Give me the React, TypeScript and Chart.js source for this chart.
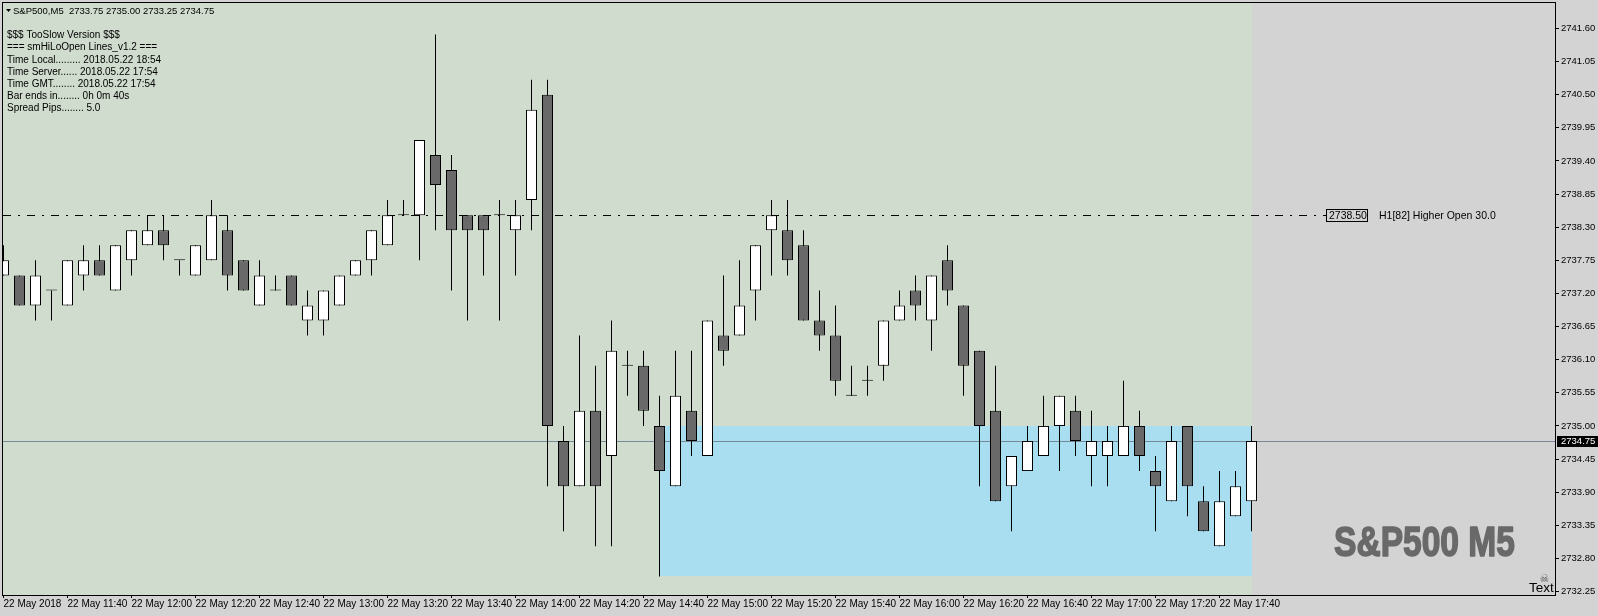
import React, { useEffect, useRef } from "react";
import { Chart, registerables } from "chart.js";

Chart.register(...registerables);

// ---------- data ----------
const candleTimes = [
  "11:20", "11:25", "11:30", "11:35", "11:40", "11:45", "11:50", "11:55",
  "12:00", "12:05", "12:10", "12:15", "12:20", "12:25", "12:30", "12:35", "12:40", "12:45", "12:50", "12:55",
  "13:00", "13:05", "13:10", "13:15", "13:20", "13:25", "13:30", "13:35", "13:40", "13:45", "13:50", "13:55",
  "14:00", "14:05", "14:10", "14:15", "14:20", "14:25", "14:30", "14:35", "14:40", "14:45", "14:50", "14:55",
  "15:00", "15:05", "15:10", "15:15", "15:20", "15:25", "15:30", "15:35", "15:40", "15:45", "15:50", "15:55",
  "16:00", "16:05", "16:10", "16:15", "16:20", "16:25", "16:30", "16:35", "16:40", "16:45", "16:50", "16:55",
  "17:00", "17:05", "17:10", "17:15", "17:20", "17:25", "17:30", "17:35", "17:40", "17:45", "17:50",
];

const opens = [
  2737.5, 2737.5, 2737.0, 2737.25, 2737.0, 2737.5, 2737.75, 2737.25, 2737.75, 2738.0,
  2738.25, 2737.75, 2737.5, 2737.75, 2738.25, 2737.75, 2737.0, 2737.25, 2737.5, 2736.75,
  2736.75, 2737.0, 2737.5, 2737.75, 2738.0, 2738.5, 2738.5, 2739.5, 2739.25, 2738.5,
  2738.5, 2738.5, 2738.25, 2738.75, 2740.5, 2734.75, 2734.0, 2735.25, 2734.5, 2736.0,
  2736.0, 2735.0, 2734.0, 2735.25, 2734.5, 2736.5, 2736.5, 2737.25, 2738.25, 2738.25,
  2738.0, 2736.75, 2736.5, 2735.5, 2735.75, 2736.0, 2736.75, 2737.25, 2736.75, 2737.75,
  2737.0, 2736.25, 2735.25, 2734.0, 2734.25, 2734.5, 2735.0, 2735.25, 2734.5, 2734.5,
  2734.5, 2735.0, 2734.25, 2733.75, 2735.0, 2733.75, 2733.0, 2733.5, 2733.75,
];
const highs = [
  2738.0, 2737.5, 2737.75, 2737.25, 2737.75, 2738.0, 2738.0, 2738.0, 2738.25, 2738.5,
  2738.5, 2737.75, 2738.0, 2738.75, 2738.5, 2737.75, 2737.75, 2737.5, 2737.5, 2737.25,
  2737.25, 2737.5, 2737.75, 2738.25, 2738.75, 2738.75, 2739.75, 2741.5, 2739.5, 2738.5,
  2738.5, 2738.75, 2738.75, 2740.75, 2740.75, 2735.0, 2736.5, 2736.0, 2736.75, 2736.25,
  2736.25, 2735.5, 2736.25, 2736.25, 2736.75, 2737.5, 2737.75, 2738.0, 2738.75, 2738.75,
  2738.25, 2737.25, 2737.0, 2736.0, 2736.0, 2736.75, 2737.25, 2737.5, 2737.5, 2738.0,
  2737.0, 2736.25, 2736.0, 2734.5, 2735.0, 2735.5, 2735.5, 2735.5, 2735.25, 2735.0,
  2735.75, 2735.25, 2734.5, 2735.0, 2735.0, 2734.0, 2734.25, 2734.25, 2735.0,
];
const lows = [
  2737.5, 2737.0, 2736.75, 2736.75, 2737.0, 2737.25, 2737.5, 2737.25, 2737.5, 2738.0,
  2737.75, 2737.5, 2737.5, 2737.75, 2737.25, 2737.25, 2737.0, 2737.25, 2737.0, 2736.5,
  2736.5, 2737.0, 2737.5, 2737.5, 2738.0, 2738.5, 2737.75, 2738.25, 2737.25, 2736.75,
  2737.5, 2736.75, 2737.5, 2738.25, 2734.0, 2733.25, 2734.0, 2733.0, 2733.0, 2735.5,
  2735.0, 2732.5, 2734.0, 2734.5, 2734.5, 2736.0, 2736.5, 2736.75, 2737.5, 2737.5,
  2736.75, 2736.25, 2735.5, 2735.5, 2735.5, 2735.75, 2736.75, 2736.75, 2736.25, 2737.0,
  2735.5, 2734.0, 2733.75, 2733.25, 2734.25, 2734.5, 2734.25, 2734.5, 2734.0, 2734.0,
  2734.5, 2734.25, 2733.25, 2733.75, 2733.5, 2733.25, 2733.0, 2733.5, 2733.25,
];
const closes = [
  2737.75, 2737.0, 2737.5, 2737.25, 2737.75, 2737.75, 2737.5, 2738.0, 2738.25, 2738.25,
  2738.0, 2737.75, 2738.0, 2738.5, 2737.5, 2737.25, 2737.5, 2737.25, 2737.0, 2737.0,
  2737.25, 2737.5, 2737.75, 2738.25, 2738.5, 2738.5, 2739.75, 2739.0, 2738.25, 2738.25,
  2738.25, 2738.5, 2738.5, 2740.25, 2735.0, 2734.0, 2735.25, 2734.0, 2736.25, 2736.0,
  2735.25, 2734.25, 2735.5, 2734.75, 2736.75, 2736.25, 2737.0, 2738.0, 2738.5, 2737.75,
  2736.75, 2736.5, 2735.75, 2735.5, 2735.75, 2736.75, 2737.0, 2737.0, 2737.5, 2737.25,
  2736.0, 2735.0, 2733.75, 2734.5, 2734.75, 2735.0, 2735.5, 2734.75, 2734.75, 2734.75,
  2735.0, 2734.5, 2734.0, 2734.75, 2734.0, 2733.25, 2733.75, 2734.0, 2734.75,
];

const xTickIndices = [0, 4, 8, 12, 16, 20, 24, 28, 32, 36, 40, 44, 48, 52, 56, 60, 64, 68, 72, 76];
const xTickLabels = [
  "22 May 2018", "22 May 11:40", "22 May 12:00", "22 May 12:20", "22 May 12:40",
  "22 May 13:00", "22 May 13:20", "22 May 13:40", "22 May 14:00", "22 May 14:20",
  "22 May 14:40", "22 May 15:00", "22 May 15:20", "22 May 15:40", "22 May 16:00",
  "22 May 16:20", "22 May 16:40", "22 May 17:00", "22 May 17:20", "22 May 17:40",
];
const priceTicks = [
  2732.25, 2732.8, 2733.35, 2733.9, 2734.45, 2735.0, 2735.55, 2736.1, 2736.65,
  2737.2, 2737.75, 2738.3, 2738.85, 2739.4, 2739.95, 2740.5, 2741.05, 2741.6,
];

const priceMin = 2732.1919;
const priceMax = 2742.0235;
const indexMin = -0.03125;
const indexMax = 96.96875;

const higherOpenLevel = 2738.5;
const higherOpenText = "H1[82] Higher Open 30.0";
const currentPrice = 2734.75;
const zoneTop = 2735.0;
const zoneBottom = 2732.5;
const zoneStartIndex = 41;

const headerText = "S&P500,M5  2733.75 2735.00 2733.25 2734.75";
const infoLines = [
  "$$$ TooSlow Version $$$",
  "=== smHiLoOpen Lines_v1.2 ===",
  "Time Local......... 2018.05.22 18:54",
  "Time Server...... 2018.05.22 17:54",
  "Time GMT........ 2018.05.22 17:54",
  "Bar ends in........ 0h 0m 40s",
  "Spread Pips........ 5.0",
];
const watermark = "S&P500 M5";
const cornerText = "Text";

// ---------- styles ----------
const BG_GREY = "#d3d3d3";
const BG_GREEN = "#d0dccd";
const ZONE_BLUE = "#a8def0";
const BEAR = "#696969";
const BULL = "#ffffff";
const PRICE_LINE = "#778899";
const FONT = '"Liberation Sans", Arial, sans-serif';

const overlayPlugin = {
  id: "mtOverlay",
  beforeDatasetsDraw(chart: any) {
    const { ctx, chartArea: ca } = chart;
    const xs = chart.scales.x;
    const ys = chart.scales.y;
    ctx.save();
    const xEnd = Math.ceil(xs.getPixelForValue(opens.length - 1));
    ctx.fillStyle = BG_GREEN;
    ctx.fillRect(ca.left, ca.top, xEnd - ca.left, ca.bottom - ca.top);

    const zx0 = Math.floor(xs.getPixelForValue(zoneStartIndex));
    const zy0 = Math.round(ys.getPixelForValue(zoneTop));
    const zy1 = Math.floor(ys.getPixelForValue(zoneBottom));
    ctx.fillStyle = ZONE_BLUE;
    ctx.fillRect(zx0, zy0, xEnd - zx0, zy1 - zy0);

    const cy = Math.round(ys.getPixelForValue(currentPrice)) + 0.5;
    ctx.strokeStyle = PRICE_LINE;
    ctx.lineWidth = 1;
    ctx.beginPath();
    ctx.moveTo(ca.left, cy);
    ctx.lineTo(ca.right, cy);
    ctx.stroke();

    const hy = Math.round(ys.getPixelForValue(higherOpenLevel)) + 0.5;
    ctx.strokeStyle = "#000";
    ctx.setLineDash([8, 7, 2, 7]);
    ctx.beginPath();
    ctx.moveTo(ca.left, hy);
    ctx.lineTo(1326, hy);
    ctx.stroke();
    ctx.setLineDash([]);
    ctx.restore();
  },
  afterDraw(chart: any) {
    const { ctx, chartArea: ca } = chart;
    const ys = chart.scales.y;
    ctx.save();
    // frame
    ctx.strokeStyle = "#000";
    ctx.lineWidth = 1;
    ctx.strokeRect(ca.left - 0.5, ca.top - 0.5, ca.right - ca.left + 1, ca.bottom - ca.top + 1);

    // header
    ctx.fillStyle = "#000";
    ctx.beginPath();
    ctx.moveTo(6, 9);
    ctx.lineTo(11, 9);
    ctx.lineTo(8.5, 12);
    ctx.closePath();
    ctx.fill();
    ctx.textAlign = "left";
    ctx.textBaseline = "middle";
    ctx.font = `9.5px ${FONT}`;
    ctx.fillText(headerText, 13, 11);

    ctx.font = `10px ${FONT}`;
    infoLines.forEach((t, i) => ctx.fillText(t, 7, 35.5 + i * 12.2));

    // higher open label
    const hyi = Math.round(ys.getPixelForValue(higherOpenLevel));
    ctx.strokeRect(1326.5, hyi - 5.5, 41, 12);
    ctx.font = `10.5px ${FONT}`;
    ctx.fillText(higherOpenLevel.toFixed(2), 1329, hyi + 1);
    ctx.fillText(higherOpenText, 1379, hyi + 1);

    // current price box
    const cyi = Math.round(ys.getPixelForValue(currentPrice));
    ctx.fillStyle = "#000";
    ctx.fillRect(ca.right + 2, cyi - 5, 41, 11);
    ctx.fillStyle = "#fff";
    ctx.font = `9.5px ${FONT}`;
    ctx.fillText(currentPrice.toFixed(2), ca.right + 6, cyi + 0.5);

    // watermark
    ctx.font = `bold 43px ${FONT}`;
    const w = ctx.measureText(watermark).width;
    ctx.save();
    ctx.translate(1334, 556);
    ctx.scale(181 / w, 1);
    ctx.fillStyle = "#696969";
    ctx.strokeStyle = "#696969";
    ctx.lineWidth = 1.6;
    ctx.lineJoin = "round";
    ctx.textBaseline = "alphabetic";
    ctx.fillText(watermark, 0, 0);
    ctx.strokeText(watermark, 0, 0);
    ctx.restore();

    // corner text with icon
    ctx.fillStyle = "#5a5a5a";
    ctx.font = '11px "DejaVu Sans"';
    ctx.textAlign = "center";
    ctx.textBaseline = "middle";
    ctx.fillText("\u2620", 1544.5, 579);
    ctx.fillStyle = "#000";
    ctx.textAlign = "left";
    ctx.textBaseline = "alphabetic";
    ctx.font = `13.5px ${FONT}`;
    ctx.fillText(cornerText, 1529, 592);
    ctx.restore();
  },
};

export default function App() {
  const canvasRef = useRef<HTMLCanvasElement | null>(null);

  useEffect(() => {
    if (!canvasRef.current) return;
    Chart.defaults.font.family = FONT;
    const bodyData = opens.map((o, i) => ({ x: i, y: [o, closes[i]] }));
    const wickData = opens.map((_, i) => ({ x: i, y: [lows[i], highs[i]] }));
    const bodyColors = opens.map((o, i) => (closes[i] > o ? BULL : closes[i] < o ? BEAR : "#000"));

    const chart = new Chart(canvasRef.current, {
      type: "bar",
      data: {
        labels: candleTimes,
        datasets: [
          {
            label: "body",
            data: bodyData as any,
            backgroundColor: bodyColors,
            borderColor: "#000",
            borderWidth: 1,
            borderSkipped: false,
            grouped: false,
            barPercentage: 11 / 16,
            categoryPercentage: 1,
            minBarLength: 1,
            clip: 0,
            order: 1,
          } as any,
          {
            label: "wick",
            data: wickData as any,
            backgroundColor: "#000",
            borderWidth: 0,
            grouped: false,
            barPercentage: 1 / 16,
            categoryPercentage: 1,
            clip: 0,
            order: 2,
          } as any,
        ],
      },
      options: {
        responsive: false,
        animation: false,
        devicePixelRatio: 1,
        events: [],
        layout: { padding: { left: 3, top: 3, right: 0, bottom: 0 } },
        plugins: { legend: { display: false }, tooltip: { enabled: false } },
        scales: {
          x: {
            type: "linear",
            position: "bottom",
            min: indexMin,
            max: indexMax,
            offset: false,
            bounds: "data",
            grid: { display: true, drawOnChartArea: false, drawTicks: true, tickLength: 3, color: "#000", offset: false },
            border: { display: false },
            afterBuildTicks: (s: any) => {
              s.ticks = xTickIndices.map((v) => ({ value: v }));
            },
            afterFit: (s: any) => {
              s.height = 21;
              s.paddingLeft = 0;
              s.paddingRight = 0;
            },
            ticks: {
              autoSkip: false,
              maxRotation: 0,
              minRotation: 0,
              align: "start",
              padding: 0,
              color: "#000",
              font: { family: FONT, size: 10 },
              callback: (_v: any, i: number) => xTickLabels[i],
            },
          } as any,
          y: {
            type: "linear",
            position: "right",
            min: priceMin,
            max: priceMax,
            bounds: "data",
            grid: { display: true, drawOnChartArea: false, drawTicks: true, tickLength: 4, color: "#000" },
            border: { display: false },
            afterBuildTicks: (s: any) => {
              s.ticks = priceTicks.map((v) => ({ value: v }));
            },
            afterFit: (s: any) => {
              s.width = 43;
              s.paddingTop = 0;
              s.paddingBottom = 0;
            },
            ticks: {
              autoSkip: false,
              padding: 2,
              color: "#000",
              font: { family: FONT, size: 9.5 },
              callback: (v: any) => Number(v).toFixed(2),
            },
          } as any,
        },
      },
      plugins: [overlayPlugin],
    });
    return () => chart.destroy();
  }, []);

  return (
    <div style={{ position: "fixed", left: 0, top: 0, width: 1598, height: 616, background: BG_GREY }}>
      <canvas ref={canvasRef} width={1598} height={616} style={{ display: "block" }} />
    </div>
  );
}
